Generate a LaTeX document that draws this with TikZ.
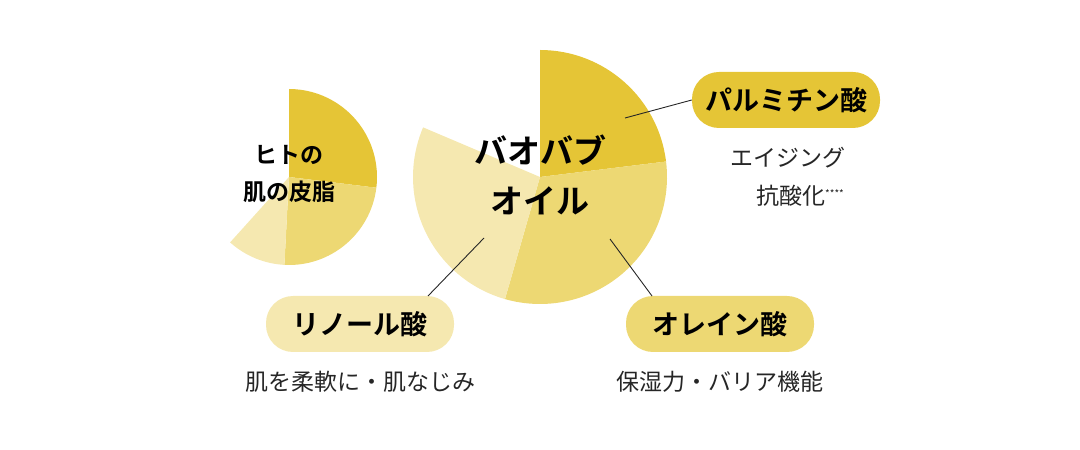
\documentclass[tikz,border=0pt]{standalone}
\usepackage{fontspec}
\setmainfont{Noto Sans CJK JP}[BoldFont={Noto Sans CJK JP Bold}]
\definecolor{cdark}{HTML}{E5C536}
\definecolor{cmid}{HTML}{EDD873}
\definecolor{clight}{HTML}{F5E8B0}
\begin{document}
\begin{tikzpicture}[x=1pt,y=1pt,
  pill/.style={rounded corners=27pt,minimum width=188pt,minimum height=56pt,inner sep=0pt,font=\bfseries\fontsize{27}{30}\selectfont},
  desc/.style={font=\fontsize{23}{26}\selectfont,text=black!85},
  lead/.style={draw=black!85,line width=0.9pt}]
\useasboundingbox (0,0) rectangle (1080,450);
% small pie
\coordinate (sc) at (289,273);
\fill[cdark] (sc) -- ++(90:88) arc[start angle=90,end angle=-7,radius=88] -- cycle;
\fill[cmid] (sc) -- ++(-7:88) arc[start angle=-7,end angle=-93,radius=88] -- cycle;
\fill[clight] (sc) -- ++(-93:88) arc[start angle=-93,end angle=-132,radius=88] -- cycle;
% large pie
\coordinate (lc) at (540,273);
\fill[cdark] (lc) -- ++(90:127) arc[start angle=90,end angle=7,radius=127] -- cycle;
\fill[cmid] (lc) -- ++(7:127) arc[start angle=7,end angle=-106,radius=127] -- cycle;
\fill[clight] (lc) -- ++(-106:127) arc[start angle=-106,end angle=-203,radius=127] -- cycle;
% chart labels
\node[font=\bfseries\fontsize{23}{37}\selectfont,align=center] (skin) at (289,276) {ヒトの\\肌の皮脂};
\node[font=\bfseries\fontsize{33}{50}\selectfont,align=center] (oil) at (540,275) {バオバブ\\オイル};
% pills
\node[pill,fill=cdark] (pal) at (786,350) {パルミチン酸};
\node[pill,fill=cmid] (ole) at (720,126) {オレイン酸};
\node[pill,fill=clight] (lin) at (360,126) {リノール酸};
% leaders
\coordinate (p1) at (625,332);
\coordinate (o1) at (610,211);
\coordinate (l1) at (484,212);
\draw[lead] (p1) -- (pal.west);
\draw[lead] (o1) -- (652,154) coordinate (o2);
\draw[lead] (l1) -- (428,154) coordinate (l2);
% descriptions
\node[desc] (d1) at (788,292) {エイジング};
\node[desc] (d2) at (800,254) {抗酸化\raisebox{7pt}{\fontsize{10}{10}\selectfont ****}};
\node[desc] (d3) at (360,68) {肌を柔軟に・肌なじみ};
\node[desc] (d4) at (720,68) {保湿力・バリア機能};
\end{tikzpicture}
\end{document}
